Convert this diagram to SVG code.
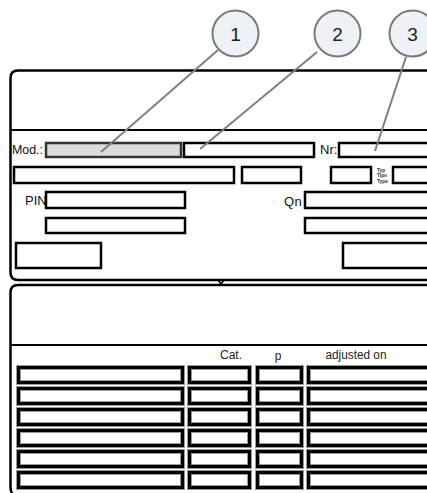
<svg xmlns="http://www.w3.org/2000/svg" width="427" height="493" viewBox="0 0 427 493">
<defs>
<style>
.frame{fill:none;stroke:#000;stroke-width:2.5}
.sep{fill:none;stroke:#000;stroke-width:2.2}
.fld{fill:#fff;stroke:#000;stroke-width:2.5}
.gray{fill:#dcdcdc;stroke:#333;stroke-width:2.5}
.halo{fill:#fff;stroke:#9a9a9a;stroke-width:5}
.cell{fill:none;stroke:#000;stroke-width:3}
.lbl{font-family:"Liberation Sans",Arial,sans-serif;font-size:13px;fill:#111}
.hdr{font-family:"Liberation Sans",Arial,sans-serif;font-size:12px;fill:#222}
.tiny{font-family:"Liberation Sans",Arial,sans-serif;font-size:4.8px;font-weight:bold;fill:#333}
.callout{fill:#eef2f6;stroke:#7a7a7a;stroke-width:2}
.num{font-family:"Liberation Sans",Arial,sans-serif;font-size:19px;fill:#222;text-anchor:middle}
.lead{stroke:#7f7f7f;stroke-width:2;fill:none}
</style>
</defs>

<g id="top-frame">
<path class="frame" d="M 430 70.5 H 18 Q 10.5 70.5 10.5 78 V 272.5 Q 10.5 280 18 280 H 430"/>
<line class="sep" x1="10.5" y1="130" x2="430" y2="130"/>
<path d="M 218 280 L 221 284 L 224 280" fill="none" stroke="#000" stroke-width="1.5"/>
</g>

<g id="bottom-frame">
<path class="frame" d="M 430 285 H 18 Q 10.5 285 10.5 292.5 V 487 Q 10.5 493 14 495"/>
<line class="sep" x1="10.5" y1="345" x2="430" y2="345"/>
</g>

<g id="row-mod">
<text class="lbl" x="12" y="154" textLength="31" lengthAdjust="spacingAndGlyphs">Mod.:</text>
<rect class="gray" x="46" y="143" width="135" height="14"/>
<rect class="fld" x="184" y="143" width="130" height="14"/>
<text class="lbl" x="320" y="154">Nr:</text>
<rect class="fld" x="339" y="143" width="100" height="14"/>
</g>

<g id="row-2">
<rect class="fld" x="14" y="167" width="220" height="16"/>
<rect class="fld" x="242" y="167" width="59" height="16"/>
<rect class="fld" x="331" y="167" width="40" height="16"/>
<text class="tiny" x="377" y="171.5">Typ</text>
<text class="tiny" x="377" y="177">Tipo</text>
<text class="tiny" x="377" y="182.5">Type</text>
<rect class="fld" x="393" y="167" width="60" height="16"/>
</g>

<g id="row-pin">
<text class="lbl" x="25" y="205">PIN</text>
<rect class="fld" x="46" y="192" width="139" height="16"/>
<text class="lbl" x="284" y="206" letter-spacing="0.5">Qn</text>
<rect class="fld" x="305" y="192" width="140" height="16"/>
</g>

<g id="row-4">
<rect class="fld" x="46" y="218" width="139" height="15"/>
<rect class="fld" x="305" y="218" width="140" height="15"/>
</g>

<g id="row-5">
<rect class="fld" x="16" y="243" width="85" height="25"/>
<rect class="fld" x="343" y="243" width="100" height="25"/>
</g>

<g id="table-header">
<text class="hdr" x="231" y="359" text-anchor="middle">Cat.</text>
<text class="hdr" x="278" y="360" text-anchor="middle">p</text>
<text class="hdr" x="356" y="359" text-anchor="middle" textLength="61" lengthAdjust="spacingAndGlyphs">adjusted on</text>
</g>

<g id="table-rows">
<g id="tr1">
<rect class="halo" x="18.5" y="367.5" width="164" height="15"/><rect class="cell" x="18.5" y="367.5" width="164" height="15"/>
<rect class="halo" x="189.5" y="367.5" width="60" height="15"/><rect class="cell" x="189.5" y="367.5" width="60" height="15"/>
<rect class="halo" x="257.5" y="367.5" width="44" height="15"/><rect class="cell" x="257.5" y="367.5" width="44" height="15"/>
<rect class="halo" x="308.5" y="367.5" width="140" height="15"/><rect class="cell" x="308.5" y="367.5" width="140" height="15"/>
</g>
<g id="tr2">
<rect class="halo" x="18.5" y="388.5" width="164" height="15"/><rect class="cell" x="18.5" y="388.5" width="164" height="15"/>
<rect class="halo" x="189.5" y="388.5" width="60" height="15"/><rect class="cell" x="189.5" y="388.5" width="60" height="15"/>
<rect class="halo" x="257.5" y="388.5" width="44" height="15"/><rect class="cell" x="257.5" y="388.5" width="44" height="15"/>
<rect class="halo" x="308.5" y="388.5" width="140" height="15"/><rect class="cell" x="308.5" y="388.5" width="140" height="15"/>
</g>
<g id="tr3">
<rect class="halo" x="18.5" y="409.5" width="164" height="15"/><rect class="cell" x="18.5" y="409.5" width="164" height="15"/>
<rect class="halo" x="189.5" y="409.5" width="60" height="15"/><rect class="cell" x="189.5" y="409.5" width="60" height="15"/>
<rect class="halo" x="257.5" y="409.5" width="44" height="15"/><rect class="cell" x="257.5" y="409.5" width="44" height="15"/>
<rect class="halo" x="308.5" y="409.5" width="140" height="15"/><rect class="cell" x="308.5" y="409.5" width="140" height="15"/>
</g>
<g id="tr4">
<rect class="halo" x="18.5" y="430.5" width="164" height="15"/><rect class="cell" x="18.5" y="430.5" width="164" height="15"/>
<rect class="halo" x="189.5" y="430.5" width="60" height="15"/><rect class="cell" x="189.5" y="430.5" width="60" height="15"/>
<rect class="halo" x="257.5" y="430.5" width="44" height="15"/><rect class="cell" x="257.5" y="430.5" width="44" height="15"/>
<rect class="halo" x="308.5" y="430.5" width="140" height="15"/><rect class="cell" x="308.5" y="430.5" width="140" height="15"/>
</g>
<g id="tr5">
<rect class="halo" x="18.5" y="451.5" width="164" height="15"/><rect class="cell" x="18.5" y="451.5" width="164" height="15"/>
<rect class="halo" x="189.5" y="451.5" width="60" height="15"/><rect class="cell" x="189.5" y="451.5" width="60" height="15"/>
<rect class="halo" x="257.5" y="451.5" width="44" height="15"/><rect class="cell" x="257.5" y="451.5" width="44" height="15"/>
<rect class="halo" x="308.5" y="451.5" width="140" height="15"/><rect class="cell" x="308.5" y="451.5" width="140" height="15"/>
</g>
<g id="tr6">
<rect class="halo" x="18.5" y="472.5" width="164" height="15"/><rect class="cell" x="18.5" y="472.5" width="164" height="15"/>
<rect class="halo" x="189.5" y="472.5" width="60" height="15"/><rect class="cell" x="189.5" y="472.5" width="60" height="15"/>
<rect class="halo" x="257.5" y="472.5" width="44" height="15"/><rect class="cell" x="257.5" y="472.5" width="44" height="15"/>
<rect class="halo" x="308.5" y="472.5" width="140" height="15"/><rect class="cell" x="308.5" y="472.5" width="140" height="15"/>
</g>
</g>

<g id="connectors">
<line class="lead" x1="218" y1="50" x2="101" y2="152"/>
<line class="lead" x1="317" y1="52" x2="200" y2="149"/>
<line class="lead" x1="406" y1="57" x2="375" y2="151"/>
</g>

<g id="callout-1">
<circle class="callout" cx="235.5" cy="33.5" r="23"/>
<text class="num" x="235.5" y="40.5">1</text>
</g>
<g id="callout-2">
<circle class="callout" cx="337.5" cy="33.5" r="23"/>
<text class="num" x="337.5" y="40.5">2</text>
</g>
<g id="callout-3">
<circle class="callout" cx="412.5" cy="33.5" r="23"/>
<text class="num" x="412.5" y="40.5">3</text>
</g>
</svg>
